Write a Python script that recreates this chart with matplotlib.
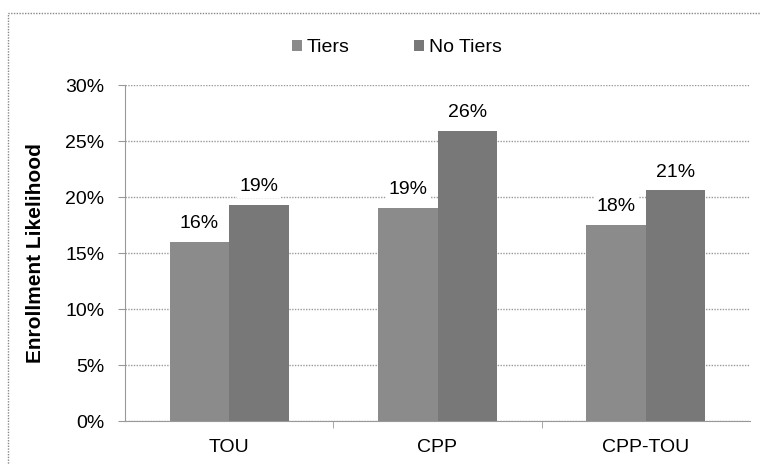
import matplotlib
matplotlib.use("Agg")
import matplotlib.pyplot as plt
import numpy as np
from matplotlib.patches import Rectangle

categories = ["TOU", "CPP", "CPP-TOU"]
tiers = [16, 19, 17.5]
no_tiers = [19.3, 25.9, 20.6]
tiers_labels = ["16%", "19%", "18%"]
no_tiers_labels = ["19%", "26%", "21%"]
yticks = [0, 5, 10, 15, 20, 25, 30]

plt.rcParams['font.family'] = ['Liberation Sans', 'DejaVu Sans']

W, H = 761, 465
fig = plt.figure(figsize=(W/100, H/100), dpi=100)
ax = fig.add_axes([125/W, 1-421/H, 625/W, (421-85)/H])

x = np.arange(len(categories))
bw = 0.285
b1 = ax.bar(x - bw/2, tiers, bw, color="#8b8b8b", label="Tiers", zorder=3)
b2 = ax.bar(x + bw/2, no_tiers, bw, color="#787878", label="No Tiers", zorder=3)

for xi, v, t in zip(x, tiers, tiers_labels):
    ax.annotate(t, (xi - bw/2, v), xytext=(0, 7), textcoords="offset points",
                ha="center", va="bottom", fontsize=14, zorder=4,
                bbox=dict(facecolor="white", edgecolor="none", pad=2))
for xi, v, t in zip(x, no_tiers, no_tiers_labels):
    ax.annotate(t, (xi + bw/2, v), xytext=(0, 7), textcoords="offset points",
                ha="center", va="bottom", fontsize=14, zorder=4,
                bbox=dict(facecolor="white", edgecolor="none", pad=2))

ax.set_xlim(-0.5, 2.5)
ax.set_ylim(0, 30)
ax.set_yticks(yticks)
ax.set_yticklabels([f"{t}%" for t in yticks], fontsize=14)
ax.set_xticks(x)
ax.set_xticklabels(categories, fontsize=14)
ax.set_xticks([0.5, 1.5], minor=True)
ax.yaxis.grid(True, linestyle=(0, (1, 1)), color="#999999", linewidth=1, zorder=0)
for s in ["top", "right"]:
    ax.spines[s].set_visible(False)
ax.spines["left"].set_color("#999999")
ax.spines["left"].set_linestyle((0, (1, 1)))
ax.spines["bottom"].set_color("#999999")
ax.tick_params(axis="y", length=5, color="#999999", pad=10)
ax.tick_params(axis="x", which="major", length=0, pad=13)
ax.tick_params(axis="x", which="minor", length=5, color="#999999")
ax.set_ylabel("Enrollment Likelihood", fontsize=15, fontweight="bold")
ax.yaxis.set_label_coords(-0.128, 0.5)

leg = fig.legend(handles=[b1, b2], loc="center", bbox_to_anchor=(397/W, 1-48/H), ncol=2,
                 frameon=False, fontsize=14, handlelength=0.5, handleheight=0.5,
                 handletextpad=0.25, columnspacing=3.3)

fig.patches.append(Rectangle((8/W, -0.1), 1.0, 1 - 13/H + 0.1, transform=fig.transFigure,
                             fill=False, edgecolor="#888888", linewidth=1, linestyle=(0, (1, 1))))

fig.savefig("out.png", dpi=100)
